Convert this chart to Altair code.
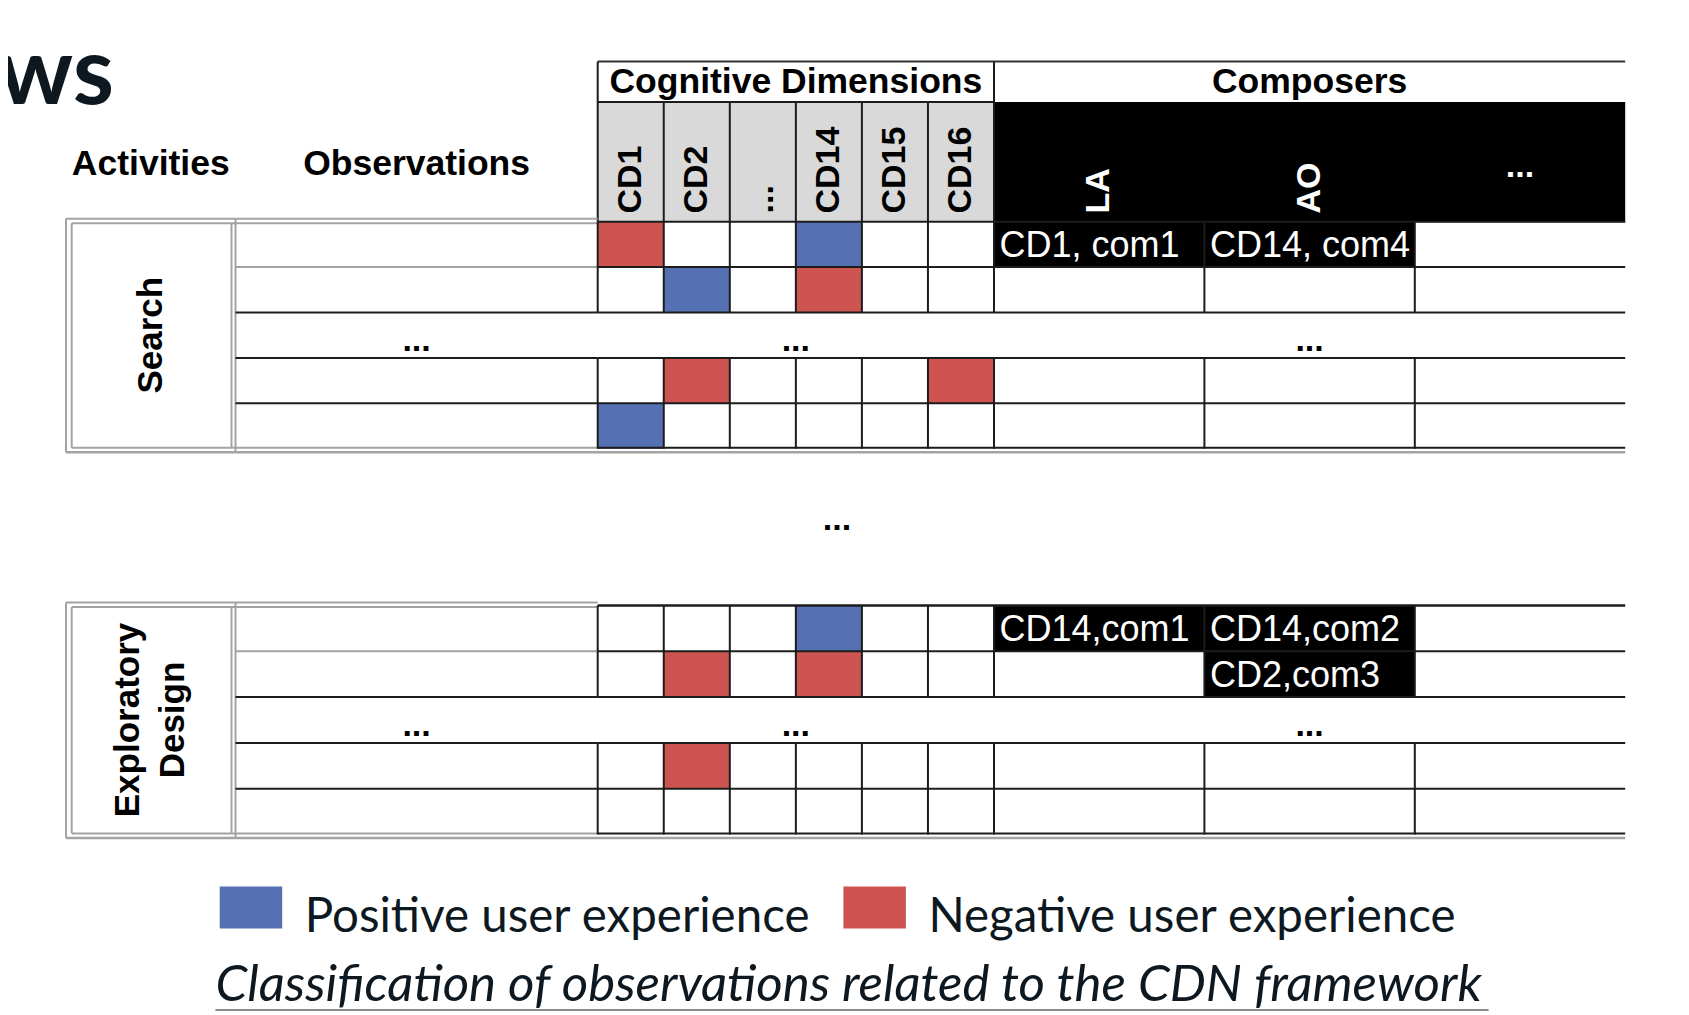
import altair as alt
import pandas as pd

# ---------------- data ----------------
TITLE_FRAGMENT = "ows"
COLUMN_HEADERS = ["Activities", "Observations"]
GROUP_HEADERS = ["Cognitive Dimensions", "Composers"]
CD_COLUMNS = ["CD1", "CD2", "...", "CD14", "CD15", "CD16"]
COMPOSERS = ["LA", "AO", "..."]
ACTIVITIES = ["Search", "Exploratory\nDesign"]
ROW_KINDS = ["obs", "obs", "ellipsis", "obs", "obs"]
ELLIPSIS = "..."

# coloured cells: activity, row, cognitive dimension, sentiment
CELL_ACTIVITY = ["Search", "Search", "Search", "Search", "Search", "Search", "Search",
                 "Exploratory\nDesign", "Exploratory\nDesign", "Exploratory\nDesign", "Exploratory\nDesign"]
CELL_ROW = [0, 0, 1, 1, 3, 3, 4, 0, 1, 1, 3]
CELL_COLUMN = ["CD1", "CD14", "CD2", "CD14", "CD2", "CD16", "CD1", "CD14", "CD2", "CD14", "CD2"]
CELL_SENTIMENT = ["Negative", "Positive", "Positive", "Negative", "Negative", "Negative", "Positive",
                  "Positive", "Negative", "Negative", "Negative"]

# composer annotations
NOTE_ACTIVITY = ["Search", "Search", "Exploratory\nDesign", "Exploratory\nDesign", "Exploratory\nDesign"]
NOTE_ROW = [0, 0, 0, 0, 1]
NOTE_COMPOSER = ["LA", "AO", "LA", "AO", "AO"]
NOTE_TEXT = ["CD1, com1", "CD14, com4", "CD14,com1", "CD14,com2", "CD2,com3"]

LEGEND_KEYS = ["Positive", "Negative"]
LEGEND_LABELS = ["Positive user experience", "Negative user experience"]
CAPTION = "Classification of observations related to the CDN framework"

# ---------------- styles ----------------
SENTIMENT_COLORS = {"Positive": "#5571b4", "Negative": "#cd5450"}
HEADER_GREY = "#d9d9d9"
LINE_BLACK = "#1c1c1c"
LINE_GREY = "#a3a3a3"
INK = "#0e1821"
TABLE_FONT = "Liberation Sans"
SLIDE_FONT = "Lato"

# ---------------- layout (page pixels) ----------------
X_ACT0, X_ACT1 = 66.0, 235.5
X_OBS1 = 597.7
CD_W = 66.05
X_CD = [X_OBS1 + i * CD_W for i in range(len(CD_COLUMNS) + 1)]
COMP_W = 210.4
X_COMP = [X_CD[-1] + i * COMP_W for i in range(len(COMPOSERS) + 1)]
X_END = X_COMP[-1]
Y_HEAD0, Y_HEAD1, Y_HEAD2 = 61.5, 102.0, 221.7
BLOCK_TOPS = [221.7, 605.5]
ROW_H = [45.4, 45.8]
ACT_LINE_H = 45


def row_y(b, r):
    return BLOCK_TOPS[b] + r * ROW_H[b]


# ---------------- rectangles ----------------
rects = []
rects.append((X_CD[0], X_CD[-1], Y_HEAD1, Y_HEAD2, HEADER_GREY))
rects.append((X_COMP[0], X_END, Y_HEAD1, Y_HEAD2 + 0.6, "#000000"))
for a, r, c, s in zip(CELL_ACTIVITY, CELL_ROW, CELL_COLUMN, CELL_SENTIMENT):
    b = ACTIVITIES.index(a)
    ci = CD_COLUMNS.index(c)
    rects.append((X_CD[ci], X_CD[ci + 1], row_y(b, r), row_y(b, r + 1), SENTIMENT_COLORS[s]))
for a, r, k in zip(NOTE_ACTIVITY, NOTE_ROW, NOTE_COMPOSER):
    b = ACTIVITIES.index(a)
    ki = COMPOSERS.index(k)
    rects.append((X_COMP[ki], X_COMP[ki + 1], row_y(b, r), row_y(b, r + 1), "#000000"))
LEGEND_X = [219.7, 843.4]
for key, lx in zip(LEGEND_KEYS, LEGEND_X):
    rects.append((lx, lx + 62.5, 886.5, 928.5, SENTIMENT_COLORS[key]))
rect_df = pd.DataFrame(rects, columns=["x", "x2", "y", "y2", "fill"])

# ---------------- lines ----------------
lines = []


def seg(x, x2, y, y2, color=LINE_BLACK, w=2.0):
    lines.append((x, x2, y, y2, color, w))


# header boxes
seg(X_CD[0], X_END, Y_HEAD0, Y_HEAD0, "#333333", 2.2)
seg(X_CD[0], X_CD[-1], Y_HEAD1, Y_HEAD1)
seg(X_CD[0], X_CD[0], Y_HEAD0, Y_HEAD2)
seg(X_CD[-1], X_CD[-1], Y_HEAD0, Y_HEAD1)
for xv in X_CD[1:]:
    seg(xv, xv, Y_HEAD1, Y_HEAD2)

for b in range(len(ACTIVITIES)):
    top = row_y(b, 0)
    bot = row_y(b, len(ROW_KINDS))
    # activity box (double grey border)
    seg(X_ACT0, X_OBS1, top - 3, top - 3, LINE_GREY)
    seg(X_ACT0 + 5.7, X_OBS1, top + 1.5, top + 1.5, LINE_GREY)
    seg(X_ACT0, X_ACT0, top - 3, bot + 3.5, LINE_GREY)
    seg(X_ACT0 + 5.7, X_ACT0 + 5.7, top + 1.5, bot - 1, LINE_GREY)
    seg(X_ACT1 - 4, X_ACT1 - 4, top + 1.5, bot - 1, LINE_GREY)
    seg(X_ACT1, X_ACT1, top - 3, bot + 3.5, LINE_GREY)
    seg(X_ACT0 + 5.7, X_OBS1, bot - 1, bot - 1, LINE_GREY)
    seg(X_ACT0, X_END, bot + 3.5, bot + 3.5, LINE_GREY, 2.4)
    # table top / bottom in the grid area
    seg(X_CD[0], X_END, top, top, LINE_BLACK, 2.6 if b > 0 else 2.0)
    seg(X_CD[0], X_END, bot - 1, bot - 1, LINE_BLACK)
    # row separators
    for r in range(1, len(ROW_KINDS)):
        yv = row_y(b, r)
        seg(X_ACT1, X_OBS1, yv, yv, LINE_GREY if r == 1 else LINE_BLACK)
        seg(X_OBS1, X_END, yv, yv)
    # vertical separators (not across the ellipsis row)
    for r, kind in enumerate(ROW_KINDS):
        if kind != "obs":
            continue
        y0, y1 = row_y(b, r), row_y(b, r + 1)
        for xv in X_CD + X_COMP[1:-1]:
            seg(xv, xv, y0, y1)

# caption underline
seg(215.4, 1488.6, 1010, 1010, "#8c8c8c", 2.0)
line_df = pd.DataFrame(lines, columns=["x", "x2", "y", "y2", "color", "w"])

# ---------------- texts ----------------
XS = alt.Scale(domain=[8, 1681], nice=False, zero=False)
YS = alt.Scale(domain=[8, 1015], nice=False, zero=False, reverse=True)


def text_layer(rows, **mark):
    df = pd.DataFrame(rows, columns=["x", "y", "label"])
    return alt.Chart(df).mark_text(**mark).encode(
        x=alt.X("x:Q", scale=XS, axis=None),
        y=alt.Y("y:Q", scale=YS, axis=None),
        text="label:N",
    )


title_rows = [(114, 104, TITLE_FRAGMENT)]
head_rows = [((X_ACT0 + X_ACT1) / 2, 175, COLUMN_HEADERS[0]),
             ((X_ACT1 + X_OBS1) / 2, 175, COLUMN_HEADERS[1]),
             ((X_CD[0] + X_CD[-1]) / 2, 93, GROUP_HEADERS[0]),
             ((X_COMP[0] + X_END) / 2, 93, GROUP_HEADERS[1])]
cd_rows = [((X_CD[i] + X_CD[i + 1]) / 2, 213.5, c) for i, c in enumerate(CD_COLUMNS)]
comp_rot_rows = [((X_COMP[i] + X_COMP[i + 1]) / 2, 213.5, c) for i, c in enumerate(COMPOSERS) if c != ELLIPSIS]
comp_flat_rows = [((X_COMP[i] + X_COMP[i + 1]) / 2, 177, c) for i, c in enumerate(COMPOSERS) if c == ELLIPSIS]
ell_rows = []
for b in range(len(ACTIVITIES)):
    for r, kind in enumerate(ROW_KINDS):
        if kind == "ellipsis":
            yb = row_y(b, r + 1) - 7
            ell_rows += [((X_ACT1 + X_OBS1) / 2, yb, ELLIPSIS),
                         ((X_CD[0] + X_CD[-1]) / 2, yb, ELLIPSIS),
                         ((X_COMP[0] + X_END) / 2, yb, ELLIPSIS)]
ell_rows.append((837, 530, ELLIPSIS))
act_rows = []
for b, a in enumerate(ACTIVITIES):
    n_lines = len(a.split("\n"))
    cx = (X_ACT0 + X_ACT1) / 2 - (n_lines - 1) * ACT_LINE_H / 2
    cy = (row_y(b, 0) + row_y(b, len(ROW_KINDS))) / 2
    act_rows.append((cx, cy, a))
note_rows = []
for a, r, k, t in zip(NOTE_ACTIVITY, NOTE_ROW, NOTE_COMPOSER, NOTE_TEXT):
    b = ACTIVITIES.index(a)
    ki = COMPOSERS.index(k)
    note_rows.append((X_COMP[ki] + 5.5, row_y(b, r + 1) - 10, t))
legend_rows = [(lx + 85, 932, lab) for lx, lab in zip(LEGEND_X, LEGEND_LABELS)]
caption_rows = [(215.4, 1001, CAPTION)]

rect_layer = alt.Chart(rect_df).mark_rect().encode(
    x=alt.X("x:Q", scale=XS, axis=None), x2="x2:Q",
    y=alt.Y("y:Q", scale=YS, axis=None), y2="y2:Q",
    color=alt.Color("fill:N", scale=None),
)
line_layer = alt.Chart(line_df).mark_rule().encode(
    x=alt.X("x:Q", scale=XS, axis=None), x2="x2:Q",
    y=alt.Y("y:Q", scale=YS, axis=None), y2="y2:Q",
    color=alt.Color("color:N", scale=None),
    strokeWidth=alt.StrokeWidth("w:Q", scale=None),
)

layers = [
    rect_layer,
    line_layer,
    text_layer(title_rows, font=SLIDE_FONT, fontSize=94, fontWeight="bold", color=INK,
               align="right", baseline="alphabetic"),
    text_layer(head_rows, font=TABLE_FONT, fontSize=35.5, fontWeight="bold", color="#000000",
               align="center", baseline="alphabetic"),
    text_layer(cd_rows, font=TABLE_FONT, fontSize=34, fontWeight="bold", color="#000000",
               align="left", baseline="middle", angle=270),
    text_layer(comp_rot_rows, font=TABLE_FONT, fontSize=34, fontWeight="bold", color="#ffffff",
               align="left", baseline="middle", angle=270),
    text_layer(comp_flat_rows, font=TABLE_FONT, fontSize=34, fontWeight="bold", color="#ffffff",
               align="center", baseline="alphabetic"),
    text_layer(ell_rows, font=TABLE_FONT, fontSize=34, fontWeight="bold", color="#000000",
               align="center", baseline="alphabetic"),
    text_layer(act_rows, font=TABLE_FONT, fontSize=35, fontWeight="bold", color="#000000",
               align="center", baseline="middle", angle=270, lineBreak="\n", lineHeight=ACT_LINE_H),
    text_layer(note_rows, font=TABLE_FONT, fontSize=36, color="#ffffff",
               align="left", baseline="alphabetic"),
    text_layer(legend_rows, font=SLIDE_FONT, fontSize=47.5, color=INK,
               align="left", baseline="alphabetic"),
    text_layer(caption_rows, font=SLIDE_FONT, fontSize=51, fontStyle="italic", color=INK,
               align="left", baseline="alphabetic"),
]

chart = alt.layer(*layers).properties(
    width=1673, height=1007,
    autosize=alt.AutoSizeParams(type="none"),
    padding=0,
    background="#ffffff",
).configure_view(stroke=None)

chart.save("out.html", embed_options={"renderer": "svg", "actions": False})
